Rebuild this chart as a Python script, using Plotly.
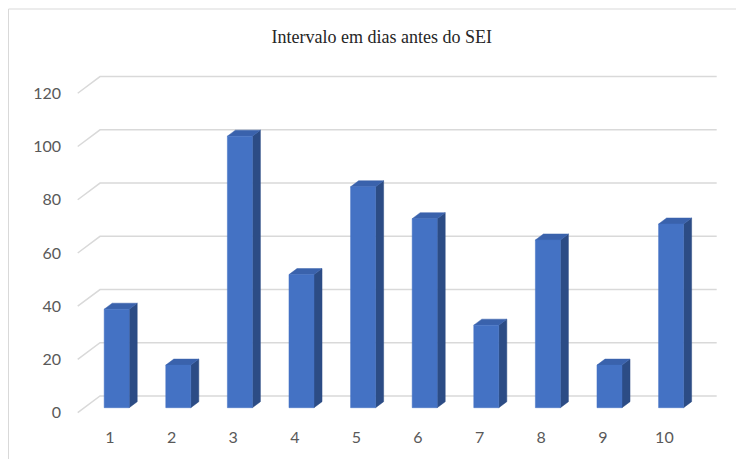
import plotly.graph_objects as go

# ---- data ----
categories = ["1", "2", "3", "4", "5", "6", "7", "8", "9", "10"]
values = [37, 16, 102, 50, 83, 71, 31, 63, 16, 69]
y_ticks = [0, 20, 40, 60, 80, 100, 120]
title_text = "Intervalo em dias antes do SEI"

# ---- 3D look (style constants, in axis units) ----
DEPTH_DX = 0.362      # full floor depth, x shift
DEPTH_DY = 6.27       # full floor depth, y shift
BAR_F0 = 0.30         # bar front depth fraction
BAR_F1 = 0.66         # bar back depth fraction
BAR_W = 0.406
GRID_X0 = 0.476       # front-left end of grid lines
GRID_X1 = 10.849      # right end of back grid lines

FRONT = "#4472C4"
SIDE = "#2C4C85"
TOP = "#3A62AC"
GRID = "#D9D9D9"

# pixel calibration of the figure (page body has an 8px margin)
W, H = 736, 451
X1_PX, X_STEP = 102.0, 61.6     # pixel of category 1 (front plane), px per category
Y0_PX, Y_SCALE = 404.7, 2.662   # pixel of value 0 (front plane), px per unit
ML, MR, MT, MB = 62, 6, 52, 39
pw, ph = W - ML - MR, H - MT - MB

xs = list(range(1, len(categories) + 1))

fig = go.Figure()

# grid lines (front slant + back wall)
gx, gy = [], []
for t in y_ticks:
    gx += [GRID_X0, GRID_X0 + DEPTH_DX, GRID_X1, None]
    gy += [t, t + DEPTH_DY, t + DEPTH_DY, None]
fig.add_trace(go.Scatter(x=gx, y=gy, mode="lines", line=dict(color=GRID, width=1.5),
                         hoverinfo="skip", showlegend=False))

fdx0, fdy0 = BAR_F0 * DEPTH_DX, BAR_F0 * DEPTH_DY
bdx, bdy = (BAR_F1 - BAR_F0) * DEPTH_DX, (BAR_F1 - BAR_F0) * DEPTH_DY

fx, fy = [], []
sx, sy = [], []
tx, ty = [], []
for x, v in zip(xs, values):
    xl = x + fdx0 - BAR_W / 2
    xr = x + fdx0 + BAR_W / 2
    yb = fdy0
    yt = v + fdy0
    fx += [xl, xr, xr, xl, xl, None]
    fy += [yb, yb, yt, yt, yb, None]
    sx += [xr, xr, xr + bdx, xr + bdx, xr, None]
    sy += [yb, yt, yt + bdy, yb + bdy, yb, None]
    tx += [xl, xr, xr + bdx, xl + bdx, xl, None]
    ty += [yt, yt, yt + bdy, yt + bdy, yt, None]

fig.add_trace(go.Scatter(x=sx, y=sy, mode="lines", fill="toself", fillcolor=SIDE,
                         line=dict(color=SIDE, width=0.5), hoverinfo="skip", showlegend=False))
fig.add_trace(go.Scatter(x=tx, y=ty, mode="lines", fill="toself", fillcolor=TOP,
                         line=dict(color=TOP, width=0.5), hoverinfo="skip", showlegend=False))
fig.add_trace(go.Scatter(x=fx, y=fy, mode="lines", fill="toself", fillcolor=FRONT,
                         line=dict(color=FRONT, width=0.5), hoverinfo="skip", showlegend=False))

fig.update_layout(
    width=W, height=H,
    margin=dict(l=ML, r=MR, t=MT, b=MB),
    paper_bgcolor="white", plot_bgcolor="white",
    showlegend=False,
    font=dict(family="Lato, Open Sans, sans-serif", size=16, color="#595959"),
    title=dict(text=title_text, x=373.7 / W, xanchor="center", y=1 - 28.7 / H, yanchor="middle",
               xref="container", yref="container",
               font=dict(family="Liberation Serif, Times New Roman, serif", size=18, color="#262626")),
    xaxis=dict(range=[1 + (ML - X1_PX) / X_STEP, 1 + (W - MR - X1_PX) / X_STEP],
               tickmode="array", tickvals=xs, ticktext=categories,
               showgrid=False, zeroline=False, showline=False, ticks="", ticklabelstandoff=6),
    yaxis=dict(range=[(Y0_PX - (H - MB)) / Y_SCALE, (Y0_PX - MT) / Y_SCALE],
               tickmode="array", tickvals=y_ticks, ticktext=[str(t) for t in y_ticks],
               showgrid=False, zeroline=False, showline=False, ticks="", ticklabelstandoff=8),
    shapes=[dict(type="rect", xref="paper", yref="paper",
                 x0=(0.5 - ML) / pw, x1=(W + 10 - ML) / pw,
                 y0=((H - MB) - (H + 10)) / ph, y1=((H - MB) - 1) / ph,
                 line=dict(color="#D9D9D9", width=1), fillcolor="rgba(0,0,0,0)", layer="below")],
)

fig.write_html("out.html")
